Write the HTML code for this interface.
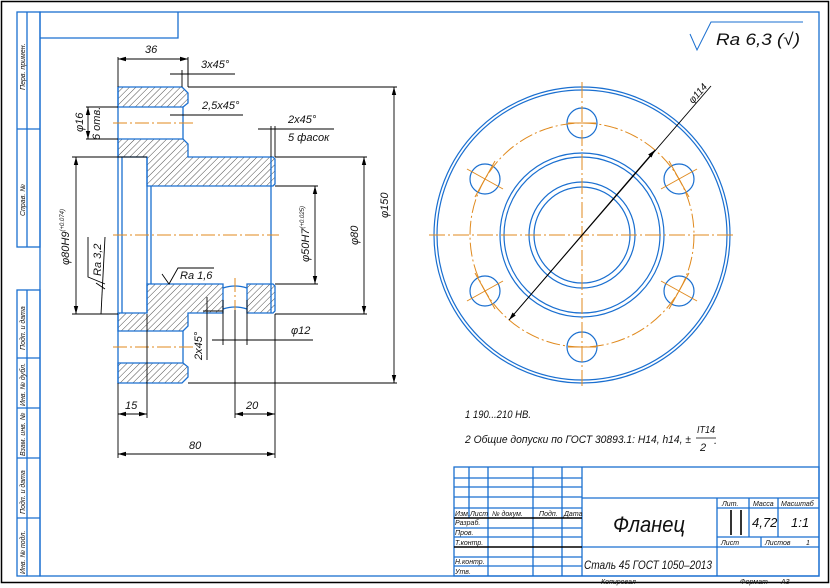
<!DOCTYPE html>
<html><head><meta charset="utf-8"><style>
html,body{margin:0;padding:0;background:#fff;}
svg{display:block;}
text{font-family:"Liberation Sans","DejaVu Sans",sans-serif;font-style:italic;fill:#111;}
</style></head><body>
<svg width="830" height="588" viewBox="0 0 830 588" xmlns="http://www.w3.org/2000/svg">
<defs>
<pattern id="h" patternUnits="userSpaceOnUse" width="4.5" height="4.5" patternTransform="rotate(45)">
<line x1="0" y1="0" x2="0" y2="4.5" stroke="#222" stroke-width="0.8"/>
</pattern>
<marker id="a" markerWidth="8" markerHeight="6" refX="8" refY="3" orient="auto" markerUnits="userSpaceOnUse"><path d="M0,0.8 L8,3 L0,5.2Z" fill="#000"/></marker>
<marker id="b" markerWidth="8" markerHeight="6" refX="0" refY="3" orient="auto" markerUnits="userSpaceOnUse"><path d="M8,0.8 L0,3 L8,5.2Z" fill="#000"/></marker>
</defs>
<rect x="1.5" y="1.5" width="827" height="581" fill="none" stroke="#000" stroke-width="1.5"/>
<g stroke="#1a6fd0" fill="none" stroke-width="1.3">
<rect x="40" y="12" width="779" height="564"/>
<polyline points="40,38 178,38 178,12"/>
<rect x="17" y="12" width="23" height="235"/>
<line x1="27" y1="12" x2="27" y2="247"/><line x1="17" y1="129" x2="40" y2="129"/>
<rect x="17" y="290" width="23" height="286"/>
<line x1="27" y1="290" x2="27" y2="576"/>
<line x1="17" y1="358" x2="40" y2="358"/><line x1="17" y1="408" x2="40" y2="408"/>
<line x1="17" y1="458" x2="40" y2="458"/><line x1="17" y1="518" x2="40" y2="518"/>
<rect x="454" y="467" width="365" height="109"/>
<line x1="454" y1="478" x2="582" y2="478"/><line x1="454" y1="487" x2="582" y2="487"/>
<line x1="454" y1="497" x2="582" y2="497"/><line x1="454" y1="508" x2="582" y2="508"/>
<line x1="454" y1="528" x2="582" y2="528"/><line x1="454" y1="537" x2="582" y2="537"/>
<line x1="454" y1="557" x2="582" y2="557"/><line x1="454" y1="566" x2="582" y2="566"/>
<line x1="469" y1="467" x2="469" y2="518"/>
<line x1="488" y1="467" x2="488" y2="576"/><line x1="533" y1="467" x2="533" y2="576"/>
<line x1="562" y1="467" x2="562" y2="576"/><line x1="582" y1="467" x2="582" y2="576"/>
<line x1="582" y1="498" x2="819" y2="498"/><line x1="582" y1="547" x2="819" y2="547"/>
<line x1="717" y1="498" x2="717" y2="576"/>
<line x1="717" y1="508" x2="819" y2="508"/><line x1="717" y1="537" x2="819" y2="537"/>
<line x1="749" y1="498" x2="749" y2="537"/><line x1="778" y1="498" x2="778" y2="537"/>
<line x1="761" y1="537" x2="761" y2="547"/>
</g>
<g stroke="#000" stroke-width="1.6"><line x1="454" y1="518" x2="582" y2="518"/><line x1="454" y1="547" x2="582" y2="547"/>
<line x1="731" y1="510" x2="731" y2="535"/><line x1="741" y1="510" x2="741" y2="535"/></g>
<g font-size="7">
<text transform="translate(25,90) rotate(-90)">Перв. примен.</text>
<text transform="translate(25,216) rotate(-90)">Справ. №</text>
<text transform="translate(25,350) rotate(-90)">Подп. и дата</text>
<text transform="translate(25,406) rotate(-90)">Инв. № дубл.</text>
<text transform="translate(25,456) rotate(-90)">Взам. инв. №</text>
<text transform="translate(25,514) rotate(-90)">Подп. и дата</text>
<text transform="translate(25,574) rotate(-90)">Инв. № подл.</text>
<text x="455" y="516">Изм.</text><text x="470" y="516">Лист</text><text x="492" y="516">№ докум.</text><text x="539" y="516">Подп.</text><text x="564" y="516">Дата</text>
<text x="455" y="525">Разраб.</text><text x="455" y="535">Пров.</text><text x="455" y="545">Т.контр.</text>
<text x="455" y="564">Н.контр.</text><text x="455" y="574">Утв.</text>
<text x="722" y="506">Лит.</text><text x="753" y="506">Масса</text><text x="781" y="506">Масштаб</text>
<text x="721" y="545">Лист</text><text x="765" y="545">Листов</text><text x="806" y="545">1</text>
<text x="601" y="584">Копировал</text><text x="740" y="584">Формат</text><text x="781" y="584">A3</text>
</g>
<text x="613" y="532" font-size="22" textLength="72" lengthAdjust="spacingAndGlyphs">Фланец</text>
<text x="584" y="569" font-size="12" textLength="128" lengthAdjust="spacingAndGlyphs">Сталь 45  ГОСТ 1050–2013</text>
<text x="752" y="527" font-size="13">4,72</text><text x="791" y="527" font-size="13">1:1</text>

<polyline points="690,34 697,50 711,22 803,22" fill="none" stroke="#1a6fd0" stroke-width="1"/>
<text x="716" y="45" font-size="17" textLength="84" lengthAdjust="spacingAndGlyphs">Ra 6,3 (√)</text>

<text x="465" y="418" font-size="11" textLength="66" lengthAdjust="spacingAndGlyphs">1  190...210 HB.</text>
<text x="465" y="443" font-size="11" textLength="226" lengthAdjust="spacingAndGlyphs">2  Общие допуски по ГОСТ 30893.1: H14, h14, ±</text>
<text x="697" y="433" font-size="10" textLength="18" lengthAdjust="spacingAndGlyphs">IT14</text><line x1="696" y1="438" x2="716" y2="438" stroke="#000" stroke-width="0.8"/>
<text x="700" y="451" font-size="11">2</text><text x="714" y="444" font-size="11">.</text>

<g fill="url(#h)" stroke="#1a6fd0" stroke-width="1.3">
<polygon points="118,87 182,87 188,93 188,103 183,107 118,107"/>
<polygon points="118,139 183,139 188,144 188,157 273,157 275,159 275,184 273,186 147,186 147,157 118,157"/>
<polygon points="118,331 183,331 188,326 188,313 223,313 223,284 147,284 147,313 118,313"/>
<polygon points="247,284 273,284 275,286 275,311 273,313 247,313"/>
<polygon points="118,383 182,383 188,377 188,367 183,363 118,363"/>
</g>
<g stroke="#1a6fd0" stroke-width="1.3" fill="none">
<line x1="118" y1="87" x2="118" y2="383"/><line x1="122" y1="157" x2="122" y2="313"/>
<line x1="147" y1="157" x2="147" y2="313"/><line x1="151" y1="186" x2="151" y2="284"/>
<line x1="183" y1="107" x2="183" y2="139"/><line x1="183" y1="331" x2="183" y2="363"/>
<line x1="271" y1="157" x2="271" y2="313"/>
<path d="M223,288 Q235,284 247,288 M223,309 Q235,305 247,309"/>
</g>
<g stroke="#e08a1e" stroke-width="1" stroke-dasharray="14,3,2,3" fill="none">
<line x1="113" y1="235" x2="279" y2="235"/><line x1="113" y1="123" x2="193" y2="123"/>
<line x1="113" y1="347" x2="193" y2="347"/><line x1="235" y1="278" x2="235" y2="310"/>
</g>
<g stroke="#000" stroke-width="0.9" fill="none">
<line x1="118" y1="57" x2="118" y2="87"/><line x1="188" y1="57" x2="188" y2="87"/>
<line x1="118" y1="59" x2="188" y2="59" marker-start="url(#b)" marker-end="url(#a)"/>
<line x1="170" y1="74" x2="235" y2="74"/><line x1="182" y1="70" x2="182" y2="87"/><line x1="188" y1="74" x2="188" y2="60"/>
<line x1="170" y1="115" x2="243" y2="115"/>
<line x1="258" y1="129" x2="334" y2="129"/><line x1="271" y1="126" x2="271" y2="157"/><line x1="275" y1="126" x2="275" y2="157"/>
<line x1="188" y1="87" x2="397" y2="87"/><line x1="188" y1="383" x2="397" y2="383"/>
<line x1="394" y1="87" x2="394" y2="383" marker-start="url(#b)" marker-end="url(#a)"/>
<line x1="275" y1="157" x2="367" y2="157"/><line x1="275" y1="314" x2="367" y2="314"/>
<line x1="364" y1="157" x2="364" y2="314" marker-start="url(#b)" marker-end="url(#a)"/>
<line x1="275" y1="186" x2="318" y2="186"/><line x1="275" y1="284" x2="318" y2="284"/>
<line x1="315" y1="186" x2="315" y2="284" marker-start="url(#b)" marker-end="url(#a)"/>
<line x1="72" y1="157" x2="147" y2="157"/><line x1="72" y1="314" x2="118" y2="314"/>
<line x1="76" y1="157" x2="76" y2="314" marker-start="url(#b)" marker-end="url(#a)"/>
<line x1="86" y1="107" x2="118" y2="107"/><line x1="86" y1="139" x2="118" y2="139"/>
<line x1="88" y1="107" x2="88" y2="139" marker-start="url(#b)" marker-end="url(#a)"/>
<polyline points="88,237 88,277 105,284"/>
<line x1="96" y1="283" x2="105" y2="289"/>
<line x1="105" y1="237" x2="101" y2="314"/>
<polyline points="162,274 169,284 178,268 214,268"/>
<line x1="207" y1="297" x2="207" y2="360"/><line x1="203" y1="311" x2="223" y2="311"/>
<line x1="223" y1="300" x2="223" y2="345"/><line x1="247" y1="300" x2="247" y2="345"/>
<line x1="212" y1="340" x2="313" y2="340"/>
<line x1="118" y1="383" x2="118" y2="458"/><line x1="147" y1="314" x2="147" y2="418"/>
<line x1="235" y1="310" x2="235" y2="418"/><line x1="275" y1="314" x2="275" y2="458"/>
<line x1="118" y1="414" x2="147" y2="414" marker-start="url(#b)" marker-end="url(#a)"/>
<line x1="235" y1="414" x2="275" y2="414" marker-start="url(#b)" marker-end="url(#a)"/>
<line x1="118" y1="454" x2="275" y2="454" marker-start="url(#b)" marker-end="url(#a)"/>
</g>
<g font-size="11">
<text x="145" y="53">36</text><text x="201" y="68">3x45°</text><text x="202" y="109">2,5x45°</text>
<text x="288" y="123">2x45°</text><text x="288" y="141">5 фасок</text>
<text x="180" y="279">Ra 1,6</text><text x="291" y="334">φ12</text>
<text x="125" y="409">15</text><text x="246" y="409">20</text><text x="189" y="449">80</text>
<text transform="translate(388,218) rotate(-90)">φ150</text>
<text transform="translate(358,245) rotate(-90)">φ80</text>
<text transform="translate(309,262) rotate(-90)">φ50H7<tspan font-size="6" dy="-5">(+0.025)</tspan></text>
<text transform="translate(69,265) rotate(-90)">φ80H9<tspan font-size="6" dy="-5">(+0.074)</tspan></text>
<text transform="translate(83,132) rotate(-90)">φ16</text>
<text transform="translate(100,140) rotate(-90)">6 отв.</text>
<text transform="translate(101,276) rotate(-90)">Ra 3,2</text>
<text transform="translate(202,360) rotate(-90)">2x45°</text>
</g>

<g stroke="#1a6fd0" stroke-width="1.2" fill="none">
<circle cx="582" cy="235" r="148"/><circle cx="582" cy="235" r="145"/>
<circle cx="582" cy="235" r="82"/><circle cx="582" cy="235" r="78"/>
<circle cx="582" cy="235" r="53"/><circle cx="582" cy="235" r="48"/>
<circle cx="582" cy="123" r="15"/><circle cx="582" cy="347" r="15"/>
<circle cx="485" cy="179" r="15"/><circle cx="679" cy="179" r="15"/>
<circle cx="485" cy="291" r="15"/><circle cx="679" cy="291" r="15"/>
</g>
<g stroke="#e08a1e" stroke-width="1" fill="none">
<circle cx="582" cy="235" r="112" stroke-dasharray="14,3,2,3"/>
<line x1="429" y1="235" x2="735" y2="235" stroke-dasharray="16,3,2,3"/>
<line x1="582" y1="82" x2="582" y2="388" stroke-dasharray="16,3,2,3"/>
<line x1="568" y1="123" x2="596" y2="123"/><line x1="568" y1="347" x2="596" y2="347"/>
<line x1="467" y1="169" x2="503" y2="189"/><line x1="475" y1="197" x2="495" y2="161"/>
<line x1="661" y1="189" x2="697" y2="169"/><line x1="669" y1="161" x2="689" y2="197"/>
<line x1="467" y1="301" x2="503" y2="281"/><line x1="475" y1="273" x2="495" y2="309"/>
<line x1="661" y1="281" x2="697" y2="301"/><line x1="669" y1="309" x2="689" y2="273"/>
</g>
<line x1="509" y1="320" x2="711" y2="86" stroke="#000" stroke-width="0.9"/>
<line x1="509" y1="320" x2="655" y2="150" stroke="#000" stroke-width="0.9" marker-start="url(#b)" marker-end="url(#a)"/>
<text transform="translate(693,104) rotate(-49)" font-size="10">φ114</text>
</svg>
</body></html>
